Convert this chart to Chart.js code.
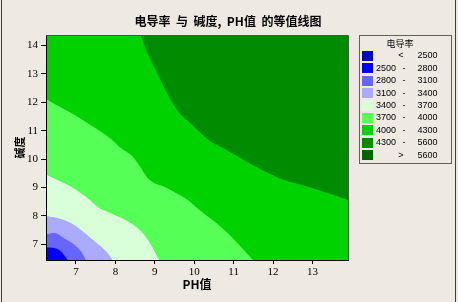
<!DOCTYPE html>
<html>
<head>
<meta charset="utf-8">
<script src="https://cdn.jsdelivr.net/npm/chart.js@4.4.1/dist/chart.umd.min.js"></script>
<style>
  html, body { margin: 0; padding: 0; background: #eeeae1; }
</style>
</head>
<body>
<canvas id="contour" width="458" height="302"></canvas>
<script>
// axis ranges: PH (x) and alkalinity 碱度 (y)
const phRange = [6.24, 13.9];
const alkRange = [6.45, 14.37];

// contour lines as [PH, 碱度]; the band below/left of each line is the lower one
const line2800 = [[6.24, 6.89], [6.45, 6.87], [6.62, 6.75], [6.72, 6.58], [6.79, 6.45]];
const line3100 = [[6.24, 7.36], [6.45, 7.40], [6.70, 7.22], [6.96, 6.99], [7.13, 6.75], [7.25, 6.45]];
const line3400 = [[6.24, 7.99], [6.53, 7.93], [6.87, 7.75], [7.13, 7.51], [7.38, 7.22], [7.63, 6.93], [7.84, 6.63], [7.93, 6.45]];
const line3700 = [[6.24, 9.45], [6.53, 9.27], [6.87, 9.04], [7.29, 8.63], [7.59, 8.28], [7.89, 8.10], [8.31, 7.81], [8.65, 7.46], [8.90, 6.99], [9.11, 6.45]];
const line4000 = [[6.24, 12.12], [6.62, 11.82], [7.0, 11.53], [7.46, 11.12], [7.89, 10.71], [8.14, 10.39], [8.43, 10.10], [8.65, 9.69], [8.82, 9.33], [9.32, 8.98], [9.83, 8.57], [10.05, 8.31], [10.56, 7.75], [10.98, 7.22], [11.49, 6.45]];
const line4300 = [[6.24, 14.37], [8.60, 14.37], [8.82, 13.70], [9.07, 13.00], [9.32, 12.29], [9.58, 11.70], [9.92, 11.24], [10.39, 10.65], [10.73, 10.39], [11.32, 9.92], [12.16, 9.33], [13.01, 8.98], [13.9, 8.57]];
const fullArea = [[6.24, 14.37], [13.9, 14.37]];

// legend bands (电导率)
const bandLow = [null, 2500, 2800, 3100, 3400, 3700, 4000, 4300, 5600];
const bandHigh = [2500, 2800, 3100, 3400, 3700, 4000, 4300, 5600, null];
const bandColors = ["#0000c8", "#0000ff", "#6666ff", "#aaaaff", "#d8ffd8", "#55ff55", "#00d200", "#008c00", "#006400"];

// which band fills under which line, top layer first
const layers = [[line2800, 1], [line3100, 2], [line3400, 3], [line3700, 4], [line4000, 5], [line4300, 6], [fullArea, 7]];

const serif = "'Liberation Serif', serif";
const cjk = "'Noto Sans CJK SC', sans-serif";

const datasets = layers.map(([pts, band]) => ({
    data: pts.map(([x, y]) => ({ x: x, y: y })),
    backgroundColor: bandColors[band],
    borderColor: 'rgba(0,0,0,0)',
    borderWidth: 0,
    pointRadius: 0,
    cubicInterpolationMode: 'monotone',
    fill: 'start'
}));

const decor = {
    id: 'decor',
    beforeDraw(chart) {
        const ctx = chart.ctx;
        ctx.save();
        ctx.fillStyle = '#eeeae1';
        ctx.fillRect(0, 0, chart.width, chart.height);
        ctx.restore();
    },
    afterDraw(chart) {
        const ctx = chart.ctx;
        const a = chart.chartArea;
        ctx.save();
        // top and right frame of plot
        ctx.strokeStyle = '#505050';
        ctx.lineWidth = 1;
        ctx.beginPath();
        ctx.moveTo(a.left, Math.floor(a.top) + 0.5);
        ctx.lineTo(Math.floor(a.right) + 0.5, Math.floor(a.top) + 0.5);
        ctx.lineTo(Math.floor(a.right) + 0.5, a.bottom);
        ctx.stroke();
        // page frame
        ctx.strokeStyle = '#404040';
        ctx.beginPath();
        ctx.moveTo(1.5, 0); ctx.lineTo(1.5, chart.height);
        ctx.moveTo(455.5, 0); ctx.lineTo(455.5, chart.height);
        ctx.stroke();

        // title
        ctx.fillStyle = '#000';
        ctx.textAlign = 'center';
        ctx.textBaseline = 'middle';
        ctx.font = 'bold 12px ' + cjk;
        ctx.fillText('电导率  与  碱度,  PH值  的等值线图', 228, 21.5);

        // legend
        ctx.strokeStyle = '#606060';
        ctx.strokeRect(359.5, 35.5, 92, 128);
        ctx.font = '9px ' + cjk;
        ctx.fillText('电导率', 400, 43.5);
        ctx.font = "9px 'Liberation Sans', sans-serif";
        bandColors.forEach((c, i) => {
            const yc = 56 + i * 12.4;
            ctx.fillStyle = c;
            ctx.fillRect(362, Math.round(yc - 5), 11, 10);
            ctx.fillStyle = '#000';
            if (bandLow[i] === null) {
                ctx.textAlign = 'center';
                ctx.fillText('<', 401, yc);
                ctx.textAlign = 'right';
                ctx.fillText(String(bandHigh[i]), 437.5, yc);
            } else if (bandHigh[i] === null) {
                ctx.textAlign = 'center';
                ctx.fillText('>', 401, yc);
                ctx.textAlign = 'right';
                ctx.fillText(String(bandLow[i]), 437.5, yc);
            } else {
                ctx.textAlign = 'left';
                ctx.fillText(String(bandLow[i]), 376, yc);
                ctx.textAlign = 'center';
                ctx.fillText('-', 404, yc);
                ctx.textAlign = 'right';
                ctx.fillText(String(bandHigh[i]), 437.5, yc);
            }
        });
        ctx.restore();
    }
};

new Chart(document.getElementById('contour'), {
    type: 'line',
    data: { datasets: datasets },
    options: {
        responsive: false,
        animation: false,
        events: [],
        layout: { padding: { top: 35, right: 110, bottom: 0, left: 0 } },
        plugins: {
            legend: { display: false },
            title: { display: false },
            tooltip: { enabled: false },
            filler: { propagate: false }
        },
        scales: {
            x: {
                type: 'linear',
                min: phRange[0],
                max: phRange[1],
                ticks: { stepSize: 1, includeBounds: false, color: '#000', padding: 2, font: { family: serif, size: 11 } },
                grid: { drawOnChartArea: false, tickLength: 4, color: '#000' },
                border: { color: '#000', z: 1 },
                title: { display: true, text: 'PH值', color: '#000', font: { family: cjk, size: 12, weight: 'bold' }, padding: { top: 0, bottom: 10 } },
                afterFit(scale) { scale.height = 42; }
            },
            y: {
                type: 'linear',
                min: alkRange[0],
                max: alkRange[1],
                ticks: { stepSize: 1, includeBounds: false, color: '#000', padding: 3, font: { family: serif, size: 11 } },
                grid: { drawOnChartArea: false, tickLength: 5, color: '#000' },
                border: { color: '#000', z: 1 },
                title: { display: true, text: '碱度', color: '#000', font: { family: cjk, size: 11, weight: 'bold' }, padding: { top: 13, bottom: 0 } },
                afterFit(scale) { scale.width = 46; }
            }
        }
    },
    plugins: [decor]
});
</script>
</body>
</html>
